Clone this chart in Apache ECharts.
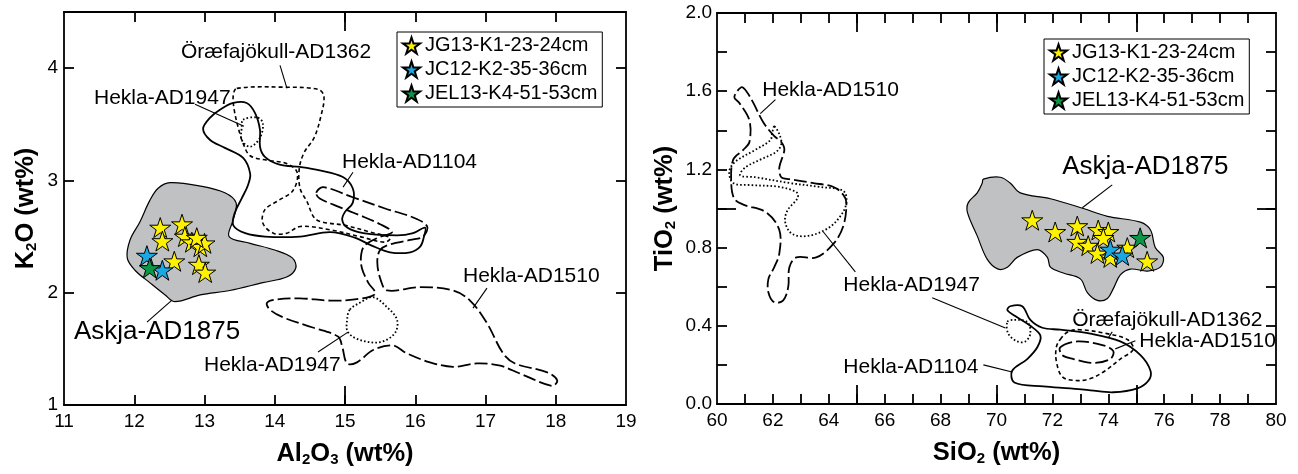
<!DOCTYPE html>
<html><head><meta charset="utf-8">
<script src="https://cdn.jsdelivr.net/npm/echarts@6/dist/echarts.min.js"></script>
<style>html,body{margin:0;padding:0;background:#fff}#c{width:1298px;height:474px}</style>
</head><body><div id="c"></div>
<script>
// ---------- sample names ----------
const sampleNames = ['JG13-K1-23-24cm', 'JC12-K2-35-36cm', 'JEL13-K4-51-53cm'];
const sampleColors = ['#FFF200', '#1AA8E3', '#0C9647'];

// ---------- left plot (Al2O3 vs K2O) ----------
const leftYellow = [[12.37,2.58],[12.68,2.61],[12.40,2.46],[12.72,2.50],[12.82,2.45],[12.94,2.41],[13.00,2.44],[12.89,2.49],[12.57,2.28],[12.92,2.25],[13.01,2.18]];
const leftBlue = [[12.18,2.33],[12.40,2.20]];
const leftGreen = [[12.22,2.22]];

const leftAskja = [[12.51,2.98],[12.94,2.95],[13.29,2.89],[13.45,2.80],[13.41,2.65],[13.35,2.50],[13.65,2.44],[14.00,2.38],[14.25,2.31],[14.30,2.22],[14.17,2.14],[13.83,2.09],[13.36,2.02],[12.94,1.98],[12.58,1.92],[12.44,1.98],[12.22,2.09],[12.01,2.20],[11.90,2.31],[11.94,2.47],[12.08,2.63],[12.22,2.82],[12.34,2.93]];
const leftH1104 = [[13.41,3.69],[13.60,3.69],[13.72,3.60],[13.79,3.45],[13.79,3.30],[13.86,3.21],[14.07,3.14],[14.36,3.12],[14.64,3.09],[14.97,3.03],[15.11,2.93],[15.11,2.80],[15.00,2.72],[14.96,2.65],[15.03,2.58],[15.26,2.53],[15.74,2.51],[15.97,2.53],[16.14,2.58],[16.12,2.49],[16.07,2.41],[15.93,2.36],[15.64,2.36],[15.38,2.42],[15.14,2.49],[14.79,2.54],[14.36,2.50],[13.86,2.50],[13.58,2.53],[13.41,2.60],[13.43,2.71],[13.53,2.84],[13.62,2.96],[13.65,3.06],[13.55,3.20],[13.29,3.29],[13.08,3.36],[12.98,3.46],[13.08,3.56],[13.22,3.63]];
const leftOraefa = [[13.46,3.82],[14.17,3.83],[14.62,3.81],[14.70,3.75],[14.66,3.58],[14.56,3.38],[14.42,3.25],[14.35,3.11],[14.36,2.93],[14.46,2.81],[14.56,2.67],[14.67,2.63],[15.00,2.60],[15.36,2.54],[15.64,2.49],[15.57,2.45],[15.21,2.50],[14.79,2.56],[14.36,2.59],[14.17,2.53],[13.98,2.53],[13.83,2.62],[13.86,2.74],[14.05,2.82],[14.26,2.91],[14.32,3.07],[14.17,3.15],[13.89,3.18],[13.65,3.22],[13.55,3.33],[13.48,3.47],[13.42,3.64],[13.41,3.76]];
const leftH1947a = [[13.55,3.54],[13.75,3.56],[13.83,3.51],[13.79,3.38],[13.65,3.30],[13.53,3.36],[13.53,3.47]];
const leftH1947b = [[15.07,1.85],[15.21,1.91],[15.40,1.96],[15.60,1.87],[15.74,1.76],[15.71,1.64],[15.50,1.56],[15.21,1.58],[15.04,1.65],[15.03,1.76]];
const leftH1510 = [[14.59,2.89],[14.69,2.94],[15.11,2.85],[15.57,2.75],[15.97,2.67],[16.17,2.59],[16.11,2.50],[15.93,2.47],[15.64,2.43],[15.50,2.38],[15.46,2.27],[15.51,2.11],[15.60,2.02],[16.07,2.05],[16.54,2.02],[16.78,1.93],[17.02,1.73],[17.25,1.46],[17.42,1.37],[17.88,1.29],[18.02,1.22],[17.95,1.17],[17.49,1.28],[17.21,1.35],[16.88,1.37],[16.54,1.34],[16.21,1.38],[15.88,1.46],[15.68,1.53],[15.40,1.49],[15.17,1.38],[15.03,1.37],[14.96,1.52],[14.90,1.61],[14.54,1.69],[14.12,1.78],[13.93,1.85],[13.89,1.91],[14.03,1.94],[14.36,1.95],[14.79,1.93],[15.14,1.94],[15.43,1.99],[15.33,2.09],[15.24,2.22],[15.23,2.34],[15.28,2.42],[15.47,2.49],[15.67,2.54],[15.50,2.61],[15.21,2.69],[14.93,2.76],[14.64,2.84]];

const leftLabelTexts = ['Öræfajökull-AD1362','Hekla-AD1947','Hekla-AD1104','Hekla-AD1510','Hekla-AD1947','Askja-AD1875'];
const leftLabelSizes = [21,21,21,21,21,26];
const leftLabelPos = [[12.665,4.141],[11.427,3.731],[14.957,3.162],[16.68,2.148],[12.993,1.356],[11.142,1.649]];
const leftLeaders = [[[14.075,4.025],[14.174,3.82]],[[12.865,3.678],[13.562,3.482]],[[15.114,3.073],[14.972,2.94]],[[17.021,2.041],[16.822,1.863]],[[14.616,1.472],[15.043,1.649]],[[12.181,1.738],[12.537,1.934]]];

const leftXLabels = [11,12,13,14,15,16,17,18,19];
const leftXTicks = [12,13,14,15,16,17,18];
const leftXLong = [15];
const leftYLabels = [1,2,3,4];
const leftYTicks = [2,3,4];

// ---------- right plot (SiO2 vs TiO2) ----------
const rightYellow = [[71.28,0.94],[72.10,0.88],[72.89,0.91],[72.89,0.83],[73.64,0.89],[74.00,0.88],[73.82,0.85],[73.28,0.81],[73.61,0.77],[74.07,0.75],[74.68,0.80],[75.39,0.73]];
const rightBlue = [[74.07,0.79],[74.50,0.76]];
const rightGreen = [[75.14,0.85]];

const rightAskja = [[69.53,1.15],[70.14,1.16],[70.49,1.13],[70.85,1.08],[71.93,1.05],[73.11,1.00],[73.97,0.96],[75.15,0.93],[75.51,0.89],[75.68,0.80],[75.97,0.75],[75.86,0.70],[75.40,0.68],[74.79,0.69],[74.43,0.66],[74.18,0.59],[73.97,0.54],[73.61,0.53],[73.25,0.57],[73.00,0.64],[72.39,0.67],[71.93,0.70],[71.82,0.75],[71.46,0.79],[70.74,0.75],[70.39,0.70],[70.06,0.69],[69.67,0.74],[69.31,0.86],[68.96,0.98],[68.99,1.03],[69.31,1.08],[69.49,1.13]];
const rightH1104 = [[70.49,0.50],[70.92,0.50],[71.21,0.43],[71.64,0.39],[72.28,0.38],[73.36,0.36],[74.43,0.32],[75.15,0.25],[75.51,0.17],[75.44,0.12],[75.04,0.08],[74.18,0.06],[73.36,0.07],[72.64,0.08],[71.68,0.09],[70.64,0.11],[70.56,0.17],[71.10,0.23],[71.46,0.29],[71.57,0.35],[71.21,0.40],[70.67,0.45],[70.39,0.48]];
const rightOraefa = [[72.28,0.33],[72.57,0.37],[72.98,0.38],[73.95,0.36],[74.68,0.33],[74.89,0.28],[74.43,0.23],[73.89,0.17],[73.36,0.13],[72.82,0.12],[72.35,0.14],[72.14,0.22],[72.14,0.29]];
const rightH1510a = [[60.87,1.62],[61.05,1.60],[61.30,1.54],[61.66,1.44],[62.05,1.37],[62.30,1.34],[62.41,1.30],[62.23,1.21],[62.30,1.16],[62.59,1.15],[63.45,1.13],[64.17,1.11],[64.52,1.07],[64.63,1.03],[64.52,0.91],[64.17,0.82],[63.55,0.75],[62.84,0.75],[62.59,0.70],[62.55,0.60],[62.37,0.53],[62.05,0.52],[61.84,0.57],[61.84,0.64],[62.05,0.70],[62.23,0.77],[62.23,0.89],[61.76,0.98],[60.94,1.02],[60.62,1.05],[60.51,1.13],[60.58,1.25],[60.94,1.30],[61.16,1.34],[61.16,1.45],[60.80,1.54],[60.62,1.57]];
const rightH1510b = [[72.28,0.29],[72.89,0.32],[73.82,0.30],[74.18,0.27],[74.07,0.23],[73.46,0.21],[72.75,0.23],[72.35,0.25]];
const rightH1947a = [[62.05,1.42],[62.23,1.38],[62.30,1.33],[62.12,1.29],[61.55,1.25],[61.01,1.21],[60.83,1.17],[61.37,1.16],[62.62,1.13],[63.70,1.11],[64.52,1.09],[64.63,1.03],[64.41,0.96],[63.98,0.90],[63.27,0.86],[62.69,0.87],[62.44,0.93],[62.52,0.99],[62.87,1.05],[62.87,1.08],[62.26,1.11],[61.19,1.12],[60.58,1.13],[60.44,1.19],[60.66,1.24],[61.37,1.30],[61.91,1.35],[61.98,1.39]];
const rightH1947b = [[70.39,0.42],[70.60,0.43],[71.10,0.42],[71.21,0.36],[71.03,0.32],[70.74,0.32],[70.42,0.36]];

const rightLabelTexts = ['Hekla-AD1510','Hekla-AD1947','Hekla-AD1104','Öræfajökull-AD1362','Hekla-AD1510','Askja-AD1875'];
const rightLabelSizes = [21,21,21,21,21,26];
const rightLabelPos = [[61.62,1.603],[64.52,0.609],[64.52,0.189],[72.71,0.43],[75.11,0.323],[72.35,1.214]];
const rightLeaders = [[[62.09,1.557],[61.55,1.485]],[[64.95,0.676],[63.80,0.881]],[[67.70,0.543],[70.32,0.389]],[[69.53,0.200],[70.56,0.164]],[[74.14,0.369],[74.00,0.338]],[[74.97,0.323],[74.25,0.282]],[[74.14,1.121],[73.07,1.004]]];

const rightXLabels = [60,62,64,66,68,70,72,74,76,78,80];
const rightXTicks = [61,62,63,64,65,66,67,68,69,70,71,72,73,74,75,76,77,78,79];
const rightXLong = [65,70,75];
const rightYLabels = [0,0.4,0.8,1.2,1.6,2.0];
const rightYTicks = [0.2,0.4,0.6,0.8,1.0,1.2,1.4,1.6,1.8];
const rightYLong = [1.0];

// ---------- helpers ----------
const FONT = '"Liberation Sans", Arial, Helvetica, sans-serif';
const STAR = 'path://M50,0 L61.2,34.5 L97.6,34.5 L68.2,55.9 L79.4,90.5 L50,69.1 L20.6,90.5 L31.8,55.9 L2.4,34.5 L38.8,34.5 Z';
const LW = 1.8;

function envelope(pts, xi, yi, style, z) {
  return {
    type: 'custom', xAxisIndex: xi, yAxisIndex: yi, z: z, silent: true, clip: false,
    data: [pts[0]], encode: {x: 0, y: 1},
    renderItem: function (params, api) {
      return {
        type: 'polygon',
        shape: {points: pts.map(function (p) { return api.coord(p); }), smooth: 0.35},
        style: Object.assign({fill: 'none', stroke: '#000', lineWidth: 1.7}, style)
      };
    }
  };
}
function labels(texts, sizes, pos, xi, yi) {
  return {
    type: 'custom', xAxisIndex: xi, yAxisIndex: yi, z: 6, silent: true, clip: false,
    data: pos.map(function (p, i) { return [p[0], p[1], i]; }), encode: {x: 0, y: 1},
    renderItem: function (params, api) {
      const c = api.coord([api.value(0), api.value(1)]);
      const i = api.value(2);
      return {type: 'text', x: c[0], y: c[1],
        style: {text: texts[i], fontSize: sizes[i], fontFamily: FONT, fill: '#000', align: 'left', verticalAlign: 'middle'}};
    }
  };
}
function leaders(segs, xi, yi) {
  return {
    type: 'custom', xAxisIndex: xi, yAxisIndex: yi, z: 6, silent: true, clip: false,
    data: segs.map(function (s) { return [s[0][0], s[0][1], s[1][0], s[1][1]]; }), encode: {x: [0, 2], y: [1, 3]},
    renderItem: function (params, api) {
      const a = api.coord([api.value(0), api.value(1)]);
      const b = api.coord([api.value(2), api.value(3)]);
      return {type: 'line', shape: {x1: a[0], y1: a[1], x2: b[0], y2: b[1]}, style: {stroke: '#000', lineWidth: 1.1}};
    }
  };
}
function stars(name, data, color, xi, yi) {
  return {type: 'scatter', name: name, xAxisIndex: xi, yAxisIndex: yi, data: data, z: 4,
    symbol: STAR, symbolSize: 21, symbolKeepAspect: true,
    itemStyle: {color: color, borderColor: '#000', borderWidth: 1, opacity: 1}};
}
const titleStyle = {fontSize: 25.5, fontWeight: 'bold', fontFamily: FONT, color: '#000', lineHeight: 27,
  rich: {s: {fontSize: 15, fontWeight: 'bold', fontFamily: FONT, color: '#000', verticalAlign: 'bottom', lineHeight: 15}}};
const lineStyle = {color: '#000', width: LW};
function axis(grid, pos, min, max, o) {
  const a = {
    gridIndex: grid, type: 'value', position: pos, min: min, max: max, scale: true,
    splitLine: {show: false},
    axisLine: {show: o.line !== false, onZero: false, lineStyle: lineStyle},
    axisTick: {show: true, inside: true, length: o.len || 10, lineStyle: lineStyle, customValues: o.ticks},
    axisLabel: o.labels ? {show: true, customValues: o.labels, fontSize: 19, color: '#000', fontFamily: FONT,
      margin: o.margin, showMinLabel: true, showMaxLabel: true, formatter: o.fmt} : {show: false}
  };
  if (o.name) {
    a.name = o.name; a.nameLocation = 'middle'; a.nameGap = o.gap; a.nameTextStyle = titleStyle;
    if (o.rot) a.nameRotate = 90;
  }
  return a;
}
const fmt1 = function (v) { return Number(v).toFixed(1); };

const option = {
  animation: false,
  backgroundColor: '#fff',
  grid: [
    {left: 64, top: 12, width: 562, height: 393},
    {left: 717, top: 13, width: 559, height: 391}
  ],
  xAxis: [
    axis(0, 'bottom', 11, 19, {ticks: leftXTicks, labels: leftXLabels, margin: 7, name: 'Al{s|2}O{s|3} (wt%)', gap: 35}),
    axis(0, 'top', 11, 19, {ticks: leftXTicks}),
    axis(0, 'bottom', 11, 19, {ticks: leftXLong, len: 19, line: false}),
    axis(0, 'top', 11, 19, {ticks: leftXLong, len: 19, line: false}),
    axis(1, 'bottom', 60, 80, {ticks: rightXTicks, labels: rightXLabels, margin: 7, name: 'SiO{s|2} (wt%)', gap: 35}),
    axis(1, 'top', 60, 80, {ticks: rightXTicks}),
    axis(1, 'bottom', 60, 80, {ticks: rightXLong, len: 19, line: false}),
    axis(1, 'top', 60, 80, {ticks: rightXLong, len: 19, line: false})
  ],
  yAxis: [
    axis(0, 'left', 1, 4.5, {ticks: leftYTicks, labels: leftYLabels, margin: 6, name: 'K{s|2}O (wt%)', gap: 25, rot: true}),
    axis(0, 'right', 1, 4.5, {ticks: leftYTicks}),
    axis(1, 'left', 0, 2, {ticks: rightYTicks, labels: rightYLabels, margin: 5, fmt: fmt1, name: 'TiO{s|2} (wt%)', gap: 39, rot: true}),
    axis(1, 'right', 0, 2, {ticks: rightYTicks}),
    axis(1, 'left', 0, 2, {ticks: rightYLong, len: 19, line: false}),
    axis(1, 'right', 0, 2, {ticks: rightYLong, len: 19, line: false})
  ],
  legend: [
    {data: sampleNames, left: 397, top: 32, orient: 'vertical', itemGap: 3, itemWidth: 17, itemHeight: 17,
      padding: [3, 5, 3, 5], borderColor: '#000', borderWidth: 1, backgroundColor: '#fff', selectedMode: false,
      textStyle: {fontSize: 20, fontFamily: FONT, color: '#000', lineHeight: 21}},
    {data: sampleNames, left: 1044, top: 39, orient: 'vertical', itemGap: 3, itemWidth: 17, itemHeight: 17,
      padding: [3, 5, 3, 5], borderColor: '#000', borderWidth: 1, backgroundColor: '#fff', selectedMode: false,
      textStyle: {fontSize: 20, fontFamily: FONT, color: '#000', lineHeight: 21}}
  ],
  series: [
    // left envelopes
    envelope(leftAskja, 0, 0, {fill: '#C0C1C3', lineWidth: 1.2}, 1),
    envelope(leftH1104, 0, 0, {lineWidth: 1.8}, 2),
    envelope(leftOraefa, 0, 0, {lineDash: [4, 3], lineWidth: 1.6}, 2),
    envelope(leftH1947a, 0, 0, {lineDash: [1.6, 2.2], lineWidth: 1.8}, 2),
    envelope(leftH1947b, 0, 0, {lineDash: [1.6, 2.2], lineWidth: 1.8}, 2),
    envelope(leftH1510, 0, 0, {lineDash: [13, 4], lineWidth: 1.8}, 2),
    leaders(leftLeaders, 0, 0),
    labels(leftLabelTexts, leftLabelSizes, leftLabelPos, 0, 0),
    stars(sampleNames[0], leftYellow, sampleColors[0], 0, 0),
    stars(sampleNames[1], leftBlue, sampleColors[1], 0, 0),
    stars(sampleNames[2], leftGreen, sampleColors[2], 0, 0),
    // right envelopes
    envelope(rightAskja, 4, 2, {fill: '#C0C1C3', lineWidth: 1.2}, 1),
    envelope(rightH1104, 4, 2, {lineWidth: 1.8}, 2),
    envelope(rightOraefa, 4, 2, {lineDash: [4, 3], lineWidth: 1.6}, 2),
    envelope(rightH1510a, 4, 2, {lineDash: [13, 4], lineWidth: 1.8}, 2),
    envelope(rightH1510b, 4, 2, {lineDash: [13, 4], lineWidth: 1.8}, 2),
    envelope(rightH1947a, 4, 2, {lineDash: [1.6, 2.2], lineWidth: 1.8}, 2),
    envelope(rightH1947b, 4, 2, {lineDash: [1.6, 2.2], lineWidth: 1.8}, 2),
    leaders(rightLeaders, 4, 2),
    labels(rightLabelTexts, rightLabelSizes, rightLabelPos, 4, 2),
    stars(sampleNames[0], rightYellow, sampleColors[0], 4, 2),
    stars(sampleNames[1], rightBlue, sampleColors[1], 4, 2),
    stars(sampleNames[2], rightGreen, sampleColors[2], 4, 2)
  ]
};
const chart = echarts.init(document.getElementById('c'), null, {renderer: 'canvas'});
chart.setOption(option);
</script>
</body></html>
